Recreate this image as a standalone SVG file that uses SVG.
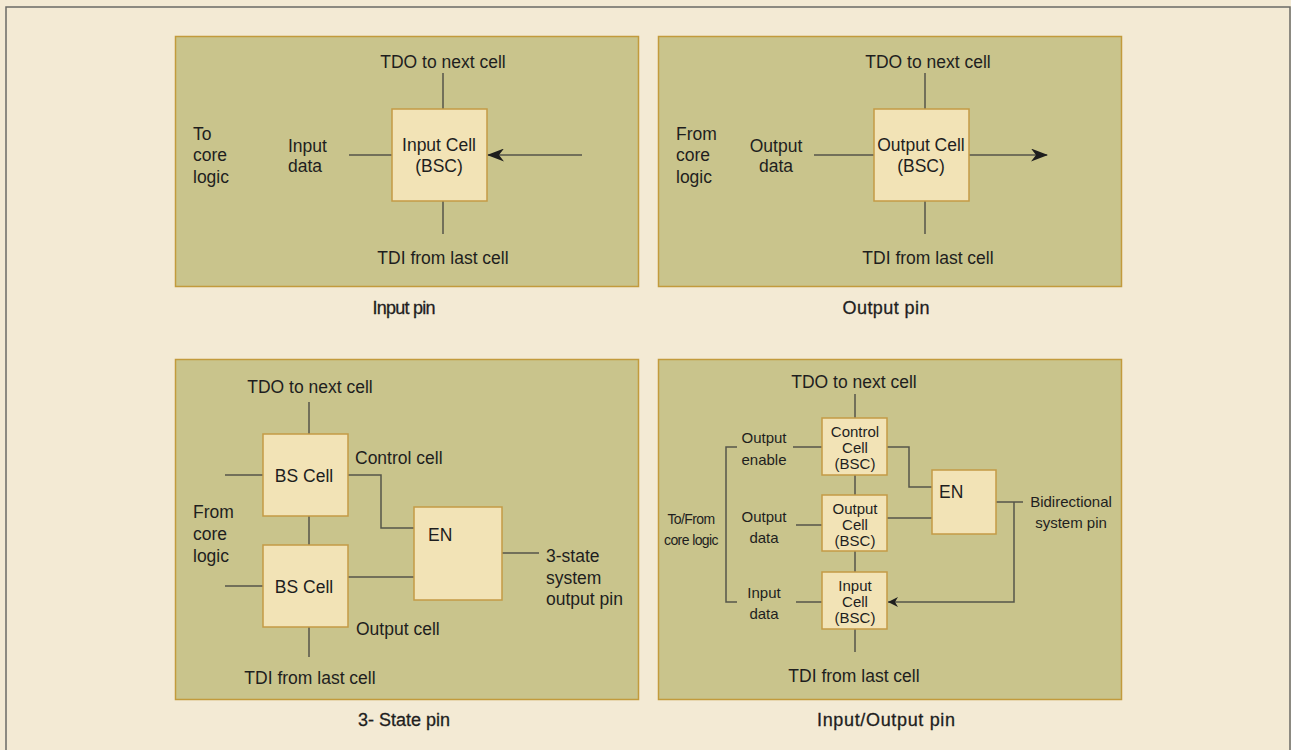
<svg xmlns="http://www.w3.org/2000/svg" width="1291" height="750" viewBox="0 0 1291 750">
<style>
text{font-family:"Liberation Sans",Arial,sans-serif;fill:#1e1e1e;}
.t{font-size:17.5px;}
.m{font-size:15px;}
.s{font-size:14px;}
.c{text-anchor:middle;}
.cap{font-size:18px;text-anchor:middle;stroke:#1e1e1e;stroke-width:0.3;}
.panel{fill:#C9C48C;stroke:#C29B3C;stroke-width:1.5;}
.box{fill:#F2E3B6;stroke:#C49A45;stroke-width:1.5;}
.ln{fill:none;stroke:#55554A;stroke-width:1.5;}
</style>
<defs>
<marker id="ah" viewBox="0 0 17 13" refX="16" refY="6.5" markerWidth="17" markerHeight="13" markerUnits="userSpaceOnUse" orient="auto">
<path d="M0,0 L17,6.5 L0,13 L5,6.5 z" fill="#1e1e1e"/>
</marker>
<marker id="ahs" viewBox="0 0 10 10" refX="10" refY="5" markerWidth="10" markerHeight="10" markerUnits="userSpaceOnUse" orient="auto">
<path d="M0,0 L10,5 L0,10 L3,5 z" fill="#1e1e1e"/>
</marker>
</defs>
<rect x="0" y="0" width="1291" height="750" fill="#F3EAD4"/>
<path d="M6,760 V7 H1290 V760" fill="none" stroke="#6b6b66" stroke-width="1.5"/>

<g id="panel-input">
<rect class="panel" x="175.5" y="36.5" width="463" height="250"/>
</g>
<g id="panel-output">
<rect class="panel" x="658.5" y="36.5" width="463" height="250"/>
</g>
<g id="panel-3state">
<rect class="panel" x="175.5" y="359.5" width="463" height="340"/>
</g>
<g id="panel-io">
<rect class="panel" x="658.5" y="359.5" width="463" height="340"/>
</g>

<g id="connectors">
<!-- panel 1 -->
<line class="ln" x1="443" y1="73" x2="443" y2="109"/>
<line class="ln" x1="443" y1="201" x2="443" y2="234"/>
<line class="ln" x1="349" y1="155" x2="392" y2="155"/>
<line class="ln" x1="582" y1="155" x2="488" y2="155" marker-end="url(#ah)"/>
<!-- panel 2 -->
<line class="ln" x1="925" y1="73" x2="925" y2="109"/>
<line class="ln" x1="925" y1="201" x2="925" y2="234"/>
<line class="ln" x1="814" y1="155" x2="874" y2="155"/>
<line class="ln" x1="969" y1="155" x2="1047" y2="155" marker-end="url(#ah)"/>
<!-- panel 3 -->
<line class="ln" x1="309" y1="402" x2="309" y2="434"/>
<line class="ln" x1="309" y1="516" x2="309" y2="545"/>
<line class="ln" x1="309" y1="627" x2="309" y2="657"/>
<line class="ln" x1="225" y1="475" x2="263" y2="475"/>
<line class="ln" x1="225" y1="586" x2="263" y2="586"/>
<path class="ln" d="M348,475 H381 V528 H414"/>
<line class="ln" x1="348" y1="577" x2="414" y2="577"/>
<line class="ln" x1="502" y1="553" x2="539" y2="553"/>
<!-- panel 4 -->
<line class="ln" x1="855" y1="394" x2="855" y2="418"/>
<line class="ln" x1="855" y1="475" x2="855" y2="495"/>
<line class="ln" x1="855" y1="551" x2="855" y2="572"/>
<line class="ln" x1="855" y1="629" x2="855" y2="652"/>
<line class="ln" x1="793" y1="447" x2="822" y2="447"/>
<line class="ln" x1="796" y1="525" x2="822" y2="525"/>
<line class="ln" x1="796" y1="602" x2="822" y2="602"/>
<path class="ln" d="M737,447 H726 V602 H737"/>
<path class="ln" d="M887,447 H909 V487 H932"/>
<line class="ln" x1="887" y1="518" x2="932" y2="518"/>
<line class="ln" x1="996" y1="502" x2="1023" y2="502"/>
<path class="ln" d="M1014,502 V602 H888" marker-end="url(#ahs)"/>
</g>

<g id="input-cell">
<rect class="box" x="392" y="109" width="95" height="92"/>
<text class="t c" x="439" y="151">Input Cell</text>
<text class="t c" x="439" y="172">(BSC)</text>
</g>
<g id="output-cell">
<rect class="box" x="874" y="109" width="95" height="92"/>
<text class="t c" x="921" y="151">Output Cell</text>
<text class="t c" x="921" y="172">(BSC)</text>
</g>
<g id="bs-cell-control">
<rect class="box" x="263" y="434" width="85" height="82"/>
<text class="t c" x="304" y="482">BS Cell</text>
</g>
<g id="bs-cell-output">
<rect class="box" x="263" y="545" width="85" height="82"/>
<text class="t c" x="304" y="593">BS Cell</text>
</g>
<g id="en-3state">
<rect class="box" x="414" y="507" width="88" height="93"/>
<text class="t" x="428" y="541">EN</text>
</g>
<g id="io-control-cell">
<rect class="box" x="822" y="418" width="65" height="57"/>
<text class="m c" x="855" y="437">Control</text>
<text class="m c" x="855" y="453">Cell</text>
<text class="m c" x="855" y="469">(BSC)</text>
</g>
<g id="io-output-cell">
<rect class="box" x="822" y="495" width="65" height="56"/>
<text class="m c" x="855" y="514">Output</text>
<text class="m c" x="855" y="530">Cell</text>
<text class="m c" x="855" y="546">(BSC)</text>
</g>
<g id="io-input-cell">
<rect class="box" x="822" y="572" width="65" height="57"/>
<text class="m c" x="855" y="591">Input</text>
<text class="m c" x="855" y="607">Cell</text>
<text class="m c" x="855" y="623">(BSC)</text>
</g>
<g id="en-io">
<rect class="box" x="932" y="470" width="64" height="64"/>
<text class="t" x="939" y="498">EN</text>
</g>

<g id="labels">
<!-- panel 1 -->
<text class="t c" x="443" y="68">TDO to next cell</text>
<text class="t c" x="443" y="264">TDI from last cell</text>
<text class="t" x="193" y="140">To</text>
<text class="t" x="193" y="161">core</text>
<text class="t" x="193" y="183">logic</text>
<text class="t" x="288" y="152">Input</text>
<text class="t" x="288" y="172">data</text>
<text class="cap" x="404" y="314" textLength="63" lengthAdjust="spacing">Input pin</text>
<!-- panel 2 -->
<text class="t c" x="928" y="68">TDO to next cell</text>
<text class="t c" x="928" y="264">TDI from last cell</text>
<text class="t" x="676" y="140">From</text>
<text class="t" x="676" y="161">core</text>
<text class="t" x="676" y="183">logic</text>
<text class="t c" x="776" y="152">Output</text>
<text class="t c" x="776" y="172">data</text>
<text class="cap" x="886" y="314" textLength="87" lengthAdjust="spacing">Output pin</text>
<!-- panel 3 -->
<text class="t c" x="310" y="393">TDO to next cell</text>
<text class="t c" x="310" y="684">TDI from last cell</text>
<text class="t" x="355" y="464">Control cell</text>
<text class="t" x="356" y="635">Output cell</text>
<text class="t" x="193" y="518">From</text>
<text class="t" x="193" y="540">core</text>
<text class="t" x="193" y="562">logic</text>
<text class="t" x="546" y="562">3-state</text>
<text class="t" x="546" y="584">system</text>
<text class="t" x="546" y="605">output pin</text>
<text class="cap" x="404" y="726" textLength="92" lengthAdjust="spacing">3- State pin</text>
<!-- panel 4 -->
<text class="t c" x="854" y="388">TDO to next cell</text>
<text class="t c" x="854" y="682">TDI from last cell</text>
<text class="m c" x="764" y="443">Output</text>
<text class="m c" x="764" y="465">enable</text>
<text class="m c" x="764" y="522">Output</text>
<text class="m c" x="764" y="543">data</text>
<text class="m c" x="764" y="598">Input</text>
<text class="m c" x="764" y="619">data</text>
<text class="s c" x="691" y="524" letter-spacing="-0.6">To/From</text>
<text class="s c" x="691" y="545" letter-spacing="-0.6">core logic</text>
<text class="m c" x="1071" y="507">Bidirectional</text>
<text class="m c" x="1071" y="528">system pin</text>
<text class="cap" x="886" y="726" textLength="138" lengthAdjust="spacing">Input/Output pin</text>
</g>
</svg>
